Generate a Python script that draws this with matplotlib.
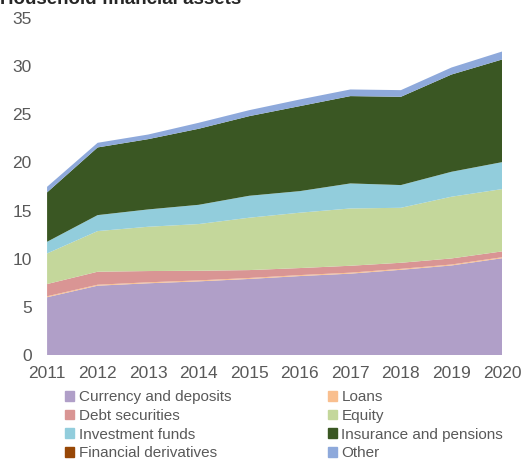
import numpy as np
import matplotlib.pyplot as plt
from matplotlib.patches import Patch

plt.rcParams['font.family'] = ['Liberation Sans', 'DejaVu Sans']

years = [2011, 2012, 2013, 2014, 2015, 2016, 2017, 2018, 2019, 2020]

# values per category (layer thickness)
currency = [6.0, 7.2, 7.45, 7.65, 7.9, 8.2, 8.45, 8.85, 9.3, 10.05]
loans = [0.1, 0.1, 0.1, 0.1, 0.1, 0.1, 0.1, 0.1, 0.1, 0.1]
debt = [1.27, 1.35, 1.17, 1.0, 0.82, 0.73, 0.72, 0.63, 0.63, 0.61]
equity = [3.18, 4.22, 4.6, 4.85, 5.44, 5.75, 5.95, 5.71, 6.41, 6.47]
inv_funds = [1.21, 1.66, 1.8, 2.0, 2.28, 2.24, 2.6, 2.36, 2.59, 2.8]
insurance = [5.13, 7.03, 7.3, 7.9, 8.27, 8.83, 9.07, 9.17, 10.1, 10.66]
derivatives = [0, 0, 0, 0, 0, 0, 0, 0, 0, 0]
other = [0.58, 0.48, 0.48, 0.62, 0.62, 0.69, 0.69, 0.69, 0.73, 0.83]

labels = ['Currency and deposits', 'Loans', 'Debt securities', 'Equity',
          'Investment funds', 'Insurance and pensions', 'Financial derivatives', 'Other']
colors = ['#B09FC8', '#F9BF8F', '#D99594', '#C4D79B', '#92CDDC', '#3A5723', '#974706', '#8EA9DB']

fig = plt.figure(figsize=(5.29, 4.62), dpi=100)
ax = fig.add_axes([0.089, 0.2316, 0.86, 0.7294])

ax.stackplot(years, currency, loans, debt, equity, inv_funds, insurance, derivatives, other,
             colors=colors, linewidth=0)

ax.set_xlim(2011, 2020)
ax.set_ylim(0, 35)
ax.set_xticks(years)
ax.set_yticks(np.arange(0, 36, 5))
for s in ax.spines.values():
    s.set_visible(False)
ax.tick_params(axis='both', length=0, labelsize=12.5, colors='#595959')
ax.tick_params(axis='x', pad=8)
ax.tick_params(axis='y', pad=11)

# title is partly cut off at the top, as in the original
fig.text(0.0, 0.991, 'Household financial assets', fontsize=13.5, fontweight='bold',
         color='#262626', va='baseline', ha='left')

handles = [Patch(color=c) for c in colors]
order = [0, 2, 4, 6, 1, 3, 5, 7]
fig.legend([handles[i] for i in order], [labels[i] for i in order],
           loc='upper left', bbox_to_anchor=(0.123, 0.155), ncol=2, frameon=False,
           fontsize=11, labelcolor='#595959', handlelength=0.6, handleheight=0.6,
           handletextpad=0.3, columnspacing=6.3, labelspacing=0.3, borderpad=0, borderaxespad=0)

fig.savefig('out.png', dpi=100)
